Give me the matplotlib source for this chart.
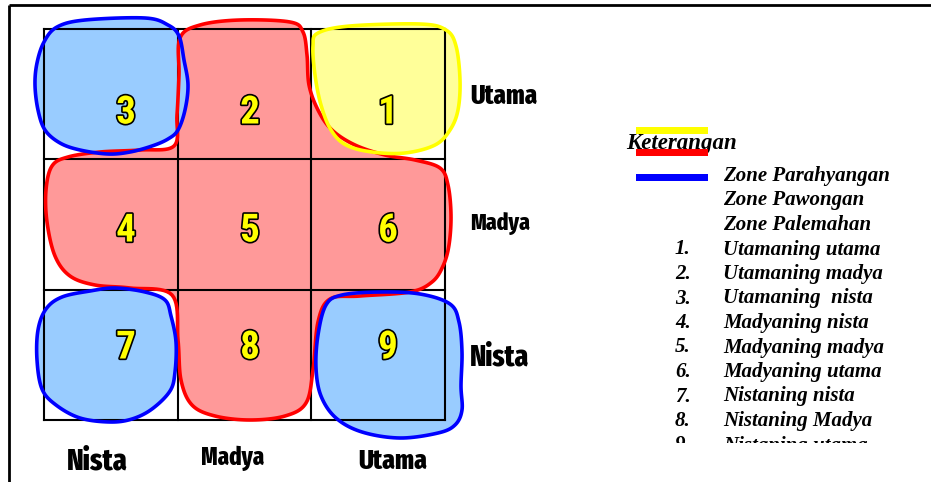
import numpy as np
import matplotlib
matplotlib.use("Agg")
import matplotlib.pyplot as plt
import matplotlib.patheffects as pe
from matplotlib.patches import Polygon, Rectangle

# ---------------- data ----------------
col_edges = [44, 178, 311, 445]
row_edges = [29, 159, 290, 420]
cell_numbers = [["3", "2", "1"], ["4", "5", "6"], ["7", "8", "9"]]
row_labels = ["Utama", "Madya", "Nista"]
col_labels = ["Nista", "Madya", "Utama"]

legend_title = "Keterangan"
zone_names = ["Zone Parahyangan", "Zone Pawongan", "Zone Palemahan"]
zone_bar_colors = ["#FFFF00", "#FF0000", "#0000FF"]
item_numbers = ["1.", "2.", "3.", "4.", "5.", "6.", "7.", "8.", "9."]
item_names = ["Utamaning utama", "Utamaning madya", "Utamaning  nista",
              "Madyaning nista", "Madyaning madya", "Madyaning utama",
              "Nistaning nista", "Nistaning Madya", "Nistaning utama"]

# blob outlines (pixel coordinates)
red_blob = [(180, 38), (200, 25), (240, 20), (290, 22), (303, 32), (307, 55), (309, 85),
            (318, 110), (332, 130), (355, 145), (385, 155), (415, 160), (440, 168),
            (448, 185), (451, 215), (449, 245), (443, 266), (432, 282), (410, 292),
            (360, 296), (330, 299), (318, 322), (313, 370), (306, 403), (285, 416),
            (250, 420), (215, 416), (192, 405), (181, 380), (178, 340), (172, 295),
            (130, 288), (95, 285), (70, 276), (55, 256), (47, 222), (46, 190), (52, 166),
            (68, 157), (100, 152), (140, 150), (174, 146), (177, 115), (179, 75)]
yellow_blob = [(318, 33), (350, 26), (420, 24), (446, 30), (456, 46), (460, 80),
               (458, 110), (450, 130), (435, 145), (405, 153), (372, 152), (346, 145),
               (331, 130), (321, 105), (315, 75), (313, 46)]
blue_blob_3 = [(57, 27), (85, 20), (145, 18), (168, 25), (179, 36), (184, 60),
               (188, 85), (185, 110), (178, 130), (168, 139), (152, 146), (130, 152),
               (108, 154), (80, 150), (60, 143), (45, 130), (38, 110), (35, 85),
               (37, 63), (44, 42)]
blue_blob_7 = [(46, 309), (62, 297), (90, 291), (115, 288), (145, 292), (165, 300),
               (171, 316), (176, 342), (175, 372), (170, 391), (152, 409), (132, 419),
               (110, 422), (80, 418), (56, 405), (42, 389), (37, 360), (38, 330)]
blue_blob_9 = [(326, 305), (342, 295), (380, 292), (420, 294), (450, 304), (459, 322),
               (462, 352), (461, 386), (462, 410), (455, 425), (438, 433), (400, 438),
               (362, 432), (336, 418), (321, 396), (316, 368), (318, 335)]

blobs = [(red_blob, "#FF9999", "#FF0000"),
         (yellow_blob, "#FFFF99", "#FFFF00"),
         (blue_blob_3, "#99CCFF", "#0000FF"),
         (blue_blob_7, "#99CCFF", "#0000FF"),
         (blue_blob_9, "#99CCFF", "#0000FF")]


def smooth_closed(pts, n=12):
    p = np.asarray(pts, float)
    out = []
    m = len(p)
    for i in range(m):
        p0, p1, p2, p3 = p[i - 1], p[i], p[(i + 1) % m], p[(i + 2) % m]
        for t in np.linspace(0, 1, n, endpoint=False):
            t2, t3 = t * t, t * t * t
            out.append(0.5 * ((2 * p1) + (-p0 + p2) * t + (2 * p0 - 5 * p1 + 4 * p2 - p3) * t2
                              + (-p0 + 3 * p1 - 3 * p2 + p3) * t3))
    return np.array(out)


W, H = 931, 482
fig = plt.figure(figsize=(W / 100, H / 100), dpi=100)
ax = fig.add_axes([0, 0, 1, 1])
ax.set_xlim(0, W)
ax.set_ylim(H, 0)
ax.axis("off")

# frame
ax.plot([8.5, 8.5], [H, 4.5], color="black", lw=2.0, solid_capstyle="butt")
ax.plot([8.5, W], [4.5, 4.5], color="black", lw=2.0, solid_capstyle="butt")

# blobs
for pts, fc, ec in blobs:
    curve = smooth_closed(pts)
    ax.add_patch(Polygon(curve, closed=True, facecolor=fc, edgecolor="none", zorder=1))
for pts, fc, ec in blobs:
    curve = smooth_closed(pts)
    ax.add_patch(Polygon(curve, closed=True, facecolor="none", edgecolor=ec, lw=2.6,
                         zorder=3, joinstyle="round"))

# grid
for x in col_edges:
    ax.plot([x, x], [row_edges[0], row_edges[-1]], color="black", lw=1.5, zorder=2)
for y in row_edges:
    ax.plot([col_edges[0], col_edges[-1]], [y, y], color="black", lw=1.5, zorder=2)

digits_font = ["Roboto Condensed", "DejaVu Sans"]
label_font = ["Fira Sans Extra Condensed", "DejaVu Sans"]
num_x = [126, 250, 388]
num_y = [113, 231, 348]
for r in range(3):
    for c in range(3):
        ax.text(num_x[c], num_y[r], cell_numbers[r][c], family=digits_font, weight="bold",
                fontsize=28, color="#FFFF00", ha="center", va="center", zorder=5,
                path_effects=[pe.withStroke(linewidth=2.4, foreground="black")])

# side / bottom labels
row_lab_y = [96, 224, 357]
row_lab_size = [19.5, 17, 21.5]
for lab, y, s in zip(row_labels, row_lab_y, row_lab_size):
    ax.text(470, y, lab, family=label_font, weight="heavy", fontsize=s, color="black",
            ha="left", va="center")
col_lab_x = [97, 233, 393]
col_lab_y = [461, 458, 461]
col_lab_size = [22, 18, 20]
for lab, x, y, s in zip(col_labels, col_lab_x, col_lab_y, col_lab_size):
    ax.text(x, y, lab, family=label_font, weight="heavy", fontsize=s, color="black",
            ha="center", va="center")

# legend
serif = ["Liberation Serif", "DejaVu Serif"]
bar_y = [130.5, 152.5, 177]
for y, col in zip(bar_y, zone_bar_colors):
    ax.add_patch(Rectangle((636, y - 3.5), 72, 7, facecolor=col, edgecolor="none", zorder=2))
ax.text(626, 143, legend_title, family=serif, style="italic", weight="bold", fontsize=16.5,
        ha="left", va="center", zorder=1)

line_step = 24.5
y0 = 176
fs = 15
for i, name in enumerate(zone_names):
    ax.text(723, y0 + i * line_step, name, family=serif, style="italic", weight="bold",
            fontsize=fs, ha="left", va="center")
clip = Rectangle((0, 0), W, 442.5, transform=ax.transData)
for j, (num, name) in enumerate(zip(item_numbers, item_names)):
    y = y0 + (3 + j) * line_step
    t1 = ax.text(675, y, num, family=serif, style="italic", weight="bold", fontsize=fs,
                 ha="left", va="center")
    t2 = ax.text(723, y, name, family=serif, style="italic", weight="bold", fontsize=fs,
                 ha="left", va="center")
    for t in (t1, t2):
        t.set_clip_path(clip)
        t.set_clip_on(True)

fig.savefig("out.png", dpi=100, facecolor="white")
